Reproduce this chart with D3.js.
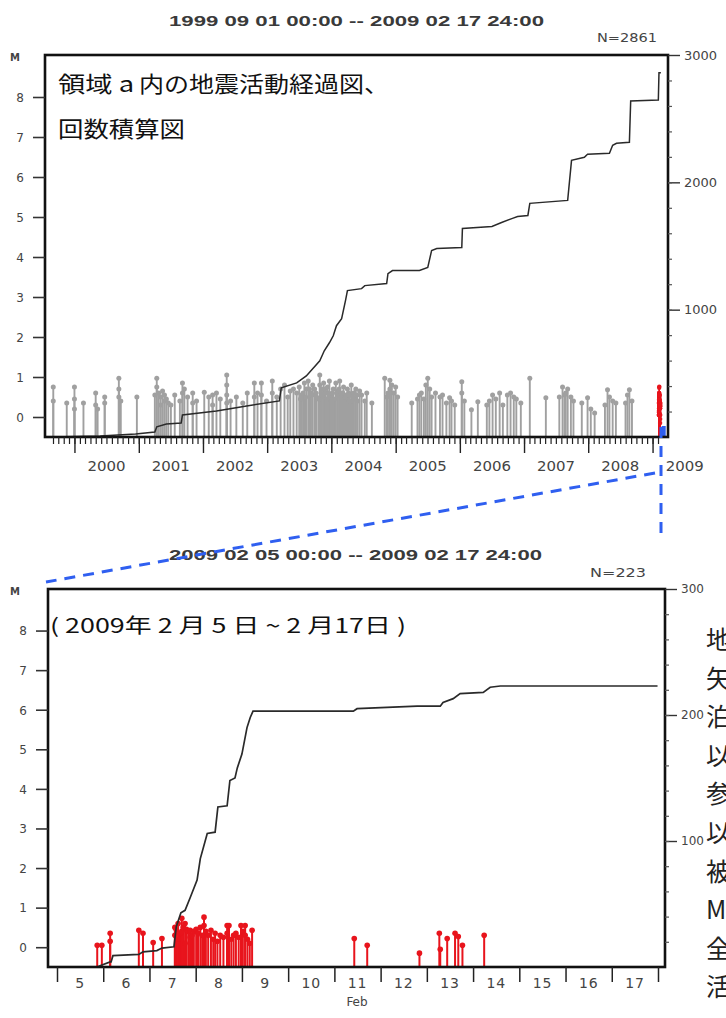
<!DOCTYPE html>
<html lang="ja">
<head>
<meta charset="UTF-8">
<script src="https://d3js.org/d3.v7.min.js"></script>
<style>
  body { margin: 0; background: #fff; }
  svg { display: block; }
  .num { font-family: "DejaVu Sans", sans-serif; fill: #444; }
  .ttl { font-family: "Liberation Sans", Arial, sans-serif; font-weight: bold; fill: #3a3a3a; }
  .jp { font-family: "Noto Sans CJK JP", sans-serif; fill: #111; }
  .side { font-family: "Noto Sans CJK JP", serif; fill: #222; }
</style>
</head>
<body>
<script>

    // ---- data ----
    var magTicks = [0, 1, 2, 3, 4, 5, 6, 7, 8]
    var yearLabels = [2000, 2001, 2002, 2003, 2004, 2005, 2006, 2007, 2008, 2009]
    var dayLabels = [5, 6, 7, 8, 9, 10, 11, 12, 13, 14, 15, 16, 17]
    var countTicksAll = [1000, 2000, 3000]
    var countTicksSwarm = [100, 200, 300]

    // cumulative count, whole period (decimal year, count)
    var cumAll = [[1999.67, 0], [2000.40, 8], [2000.95, 24], [2001.25, 39], [2001.28, 80], [2001.43, 102],
    [2001.66, 110], [2001.68, 173], [2002.21, 205], [2002.68, 244], [2003.19, 283], [2003.22, 386],
    [2003.46, 425], [2003.61, 480], [2003.82, 598], [2003.89, 677], [2003.97, 740], [2004.03, 795],
    [2004.08, 874], [2004.16, 929], [2004.22, 1071], [2004.25, 1150], [2004.47, 1165], [2004.52, 1189],
    [2004.86, 1205], [2004.88, 1283], [2004.95, 1307], [2005.37, 1307], [2005.50, 1331], [2005.56, 1465],
    [2005.64, 1480], [2006.03, 1488], [2006.04, 1638], [2006.50, 1654], [2006.65, 1685], [2006.82, 1717],
    [2006.90, 1732], [2007.06, 1740], [2007.09, 1835], [2007.68, 1858], [2007.74, 2173], [2007.94, 2197],
    [2007.99, 2220], [2008.33, 2228], [2008.38, 2291], [2008.44, 2307], [2008.64, 2315], [2008.66, 2638],
    [2009.09, 2646], [2009.10, 2861], [2009.13, 2861]]

    // earlier events (decimal year, M)
    var greyEvents = [[1999.67, 0.75], [1999.67, 0.4], [1999.88, 0.35], [2000.00, 0.75], [2000.00, 0.45], [2000.00, 0.2],
    [2000.14, 0.35], [2000.33, 0.6], [2000.33, 0.3], [2000.36, 0.2], [2000.47, 0.5], [2000.47, 0.35],
    [2000.69, 0.97], [2000.69, 0.7], [2000.69, 0.5], [2000.72, 0.4], [2000.97, 0.5],
    [2001.25, 0.55], [2001.28, 0.97], [2001.28, 0.75], [2001.31, 0.6], [2001.34, 0.5], [2001.34, 0.3],
    [2001.37, 0.65], [2001.40, 0.55], [2001.40, 0.4], [2001.43, 0.45], [2001.46, 0.35], [2001.50, 0.3],
    [2001.56, 0.55], [2001.64, 0.4], [2001.68, 0.85], [2001.68, 0.6], [2001.71, 0.7], [2001.76, 0.5],
    [2001.84, 0.6], [2001.84, 0.35], [2001.90, 0.4],
    [2002.02, 0.62], [2002.09, 0.5], [2002.15, 0.55], [2002.15, 0.3], [2002.21, 0.6], [2002.27, 0.45],
    [2002.37, 1.05], [2002.37, 0.8], [2002.37, 0.55], [2002.37, 0.35], [2002.43, 0.4], [2002.52, 0.5],
    [2002.62, 0.35], [2002.69, 0.6], [2002.80, 0.85], [2002.80, 0.5], [2002.85, 0.6], [2002.91, 0.85],
    [2002.91, 0.55], [2002.99, 0.4],
    [2003.08, 0.9], [2003.08, 0.6], [2003.15, 0.5], [2003.21, 0.7], [2003.27, 0.8], [2003.32, 0.5],
    [2003.36, 0.65], [2003.41, 0.7], [2003.46, 0.6], [2003.50, 0.75], [2003.52, 0.45], [2003.54, 0.55],
    [2003.56, 0.6], [2003.58, 0.85], [2003.60, 0.5], [2003.61, 0.7], [2003.64, 0.9], [2003.66, 0.7],
    [2003.68, 0.6], [2003.70, 0.55], [2003.71, 0.8], [2003.74, 0.7], [2003.76, 0.6], [2003.77, 0.5],
    [2003.80, 0.45], [2003.82, 1.05], [2003.82, 0.8], [2003.84, 0.6], [2003.85, 0.7], [2003.87, 0.5],
    [2003.88, 0.85], [2003.90, 0.7], [2003.91, 0.6], [2003.93, 0.45], [2003.94, 0.75], [2003.96, 0.6],
    [2003.97, 0.9], [2003.99, 0.5],
    [2004.00, 0.55], [2004.02, 0.6], [2004.03, 0.7], [2004.05, 0.45], [2004.07, 0.85], [2004.09, 0.55],
    [2004.10, 0.65], [2004.12, 0.7], [2004.13, 0.9], [2004.15, 0.5], [2004.16, 0.6], [2004.18, 0.6],
    [2004.19, 0.75], [2004.21, 0.45], [2004.22, 0.5], [2004.24, 0.55], [2004.25, 0.7], [2004.27, 0.6],
    [2004.28, 0.55], [2004.30, 0.4], [2004.31, 0.8], [2004.33, 0.5], [2004.35, 0.6], [2004.37, 0.45],
    [2004.38, 0.7], [2004.40, 0.55], [2004.41, 0.4], [2004.44, 0.65], [2004.47, 0.55], [2004.52, 0.4],
    [2004.55, 0.6], [2004.63, 0.35], [2004.83, 0.97], [2004.86, 0.5], [2004.88, 0.6], [2004.91, 0.92],
    [2004.91, 0.7], [2004.94, 0.8], [2004.97, 0.6],
    [2005.00, 0.75], [2005.03, 0.5], [2005.25, 0.35], [2005.34, 0.45], [2005.37, 0.55], [2005.40, 0.6],
    [2005.44, 0.45], [2005.47, 0.8], [2005.50, 0.97], [2005.53, 0.7], [2005.56, 0.5], [2005.62, 0.6],
    [2005.69, 0.5], [2005.73, 0.55], [2005.79, 0.35], [2005.84, 0.48], [2005.87, 0.4], [2005.92, 0.3],
    [2006.03, 0.88], [2006.03, 0.6], [2006.07, 0.4], [2006.18, 0.18], [2006.28, 0.38], [2006.42, 0.3],
    [2006.46, 0.4], [2006.51, 0.55], [2006.56, 0.45], [2006.62, 0.6], [2006.67, 0.3], [2006.74, 0.55],
    [2006.79, 0.6], [2006.84, 0.5], [2006.88, 0.45], [2006.95, 0.35],
    [2007.09, 0.97], [2007.34, 0.48], [2007.55, 0.5], [2007.60, 0.75], [2007.63, 0.55], [2007.65, 0.6],
    [2007.68, 0.7], [2007.73, 0.5], [2007.77, 0.4], [2007.90, 0.35], [2007.99, 0.48],
    [2008.04, 0.2], [2008.10, 0.1], [2008.26, 0.3], [2008.30, 0.68], [2008.33, 0.5], [2008.38, 0.4],
    [2008.43, 0.35], [2008.58, 0.35], [2008.61, 0.55], [2008.64, 0.68], [2008.68, 0.4]]

    // February 2009 swarm (day of Feb, M)
    var redEvents = [[5.87, 0.05], [5.97, 0.05], [6.15, 0.35], [6.15, 0.15], [6.77, 0.43], [6.86, 0.35],
    [7.08, 0.12], [7.27, 0.22], [7.55, 0.5], [7.55, 0.3], [7.58, 0.45], [7.62, 0.6], [7.62, 0.2],
    [7.66, 0.35], [7.70, 0.73], [7.70, 0.4], [7.73, 0.5], [7.77, 0.6], [7.77, 0.1], [7.80, 0.45],
    [7.84, 0.4], [7.88, 0.43], [7.88, 0.25], [7.92, 0.3], [7.96, 0.4], [8.01, 0.45], [8.05, 0.35],
    [8.10, 0.5], [8.14, 0.3], [8.18, 0.76], [8.18, 0.55], [8.22, 0.4], [8.27, 0.3], [8.33, 0.43],
    [8.38, 0.2], [8.42, 0.35], [8.47, 0.15], [8.53, 0.3], [8.60, 0.25], [8.68, 0.55], [8.68, 0.35],
    [8.72, 0.55], [8.77, 0.2], [8.82, 0.3], [8.87, 0.35], [8.93, 0.25], [8.98, 0.55], [9.02, 0.4],
    [9.07, 0.55], [9.07, 0.3], [9.12, 0.2], [9.17, 0.1], [9.22, 0.43], [11.43, 0.22], [11.71, 0.05],
    [12.84, -0.15], [13.27, 0.35], [13.29, -0.05], [13.44, 0.22], [13.61, 0.35], [13.68, 0.27],
    [13.77, 0.05], [14.24, 0.3]]

    // cumulative count, swarm (day of Feb, count)
    var cumSwarm = [[5.87, 0], [5.93, 1], [6.15, 4], [6.17, 4], [6.21, 9], [6.77, 10], [6.86, 12],
    [7.16, 13], [7.27, 15], [7.53, 16], [7.58, 32], [7.68, 43], [7.77, 45], [7.88, 55], [8.03, 69],
    [8.10, 86], [8.25, 106], [8.42, 107], [8.48, 127], [8.68, 128], [8.74, 148], [8.85, 150],
    [8.90, 158], [9.00, 169], [9.11, 190], [9.18, 198], [9.24, 203], [11.41, 203], [11.49, 205],
    [12.79, 207], [13.29, 207], [13.35, 210], [13.57, 213], [13.72, 217], [14.22, 218], [14.37, 222],
    [14.59, 223], [17.99, 223]]

    var sideChars = ["地", "矢", "泊", "以", "参", "以", "被", "M", "全", "活"]

    // ---- helpers ----
    function yearDate(y) {
        var yr = Math.floor(y)
        var a = Date.UTC(yr, 0, 1), b = Date.UTC(yr + 1, 0, 1)
        return new Date(a + (y - yr) * (b - a))
    }
    function febDate(d) { return new Date(Date.UTC(2009, 1, 1) + (d - 1) * 864e5) }

    var width = 726, height = 1018
    var svg = d3.select("body").append("svg")
        .attr("width", width)
        .attr("height", height)

    function stretchText(x, y, str, len, cls, size, anchor) {
        var t = svg.append("text")
            .attr("class", cls)
            .attr("x", x).attr("y", y)
            .attr("font-size", size)
            .attr("text-anchor", anchor || "start")
            .attr("xml:space", "preserve")
            .text(str)
        if (len) t.attr("textLength", len).attr("lengthAdjust", "spacingAndGlyphs")
        return t
    }

    // panels
    var p1 = { x0: 45, x1: 668, y0: 55, y1: 437 }
    var p2 = { x0: 48, x1: 665, y0: 589, y1: 967 }

    var xAll = d3.scaleUtc().domain([Date.UTC(1999, 8, 1), Date.UTC(2009, 1, 18)]).range([53, 661])
    var xSw = d3.scaleUtc().domain([Date.UTC(2009, 1, 5), Date.UTC(2009, 1, 18)]).range([57, 658])
    var mAll = d3.scaleLinear().domain([-0.5, 9.05]).range([p1.y1, p1.y0])
    var mSw = d3.scaleLinear().domain([-0.5, 9.05]).range([p2.y1, p2.y0])
    var cAll = d3.scaleLinear().domain([0, 3000]).range([p1.y1, p1.y0])
    var cSw = d3.scaleLinear().domain([0, 300]).range([p2.y1, p2.y0])

    // stems with dot on top
    function stems(data, xf, m, bottom, color, w, r) {
        var g = svg.append("g")
        g.selectAll("line").data(data).join("line")
            .attr("x1", function (d) { return xf(d[0]) })
            .attr("x2", function (d) { return xf(d[0]) })
            .attr("y1", bottom)
            .attr("y2", function (d) { return m(d[1]) })
            .attr("stroke", color).attr("stroke-width", w)
        g.selectAll("circle").data(data).join("circle")
            .attr("cx", function (d) { return xf(d[0]) })
            .attr("cy", function (d) { return m(d[1]) })
            .attr("r", r)
            .attr("fill", color)
    }

    stems(greyEvents, function (v) { return xAll(yearDate(v)) }, mAll, p1.y1, "#a0a0a0", 1.9, 2.5)
    stems(redEvents, function (v) { return xAll(febDate(v)) }, mAll, p1.y1, "#e8141c", 1.4, 2.2)
    stems(redEvents, function (v) { return xSw(febDate(v)) }, mSw, p2.y1, "#e8141c", 2, 2.8)

    // cumulative lines
    svg.append("path")
        .datum(cumAll)
        .attr("fill", "none").attr("stroke", "#2a2a2a").attr("stroke-width", 1.5)
        .attr("d", d3.line()
            .x(function (d) { return xAll(yearDate(d[0])) })
            .y(function (d) { return cAll(d[1]) }))
    svg.append("path")
        .datum(cumSwarm)
        .attr("fill", "none").attr("stroke", "#2a2a2a").attr("stroke-width", 1.7)
        .attr("d", d3.line()
            .x(function (d) { return xSw(febDate(d[0])) })
            .y(function (d) { return cSw(d[1]) }))

    // blue marker of the zoomed period
    svg.append("rect")
        .attr("x", xAll(Date.UTC(2009, 1, 5)) + 3)
        .attr("y", p1.y1 - 11)
        .attr("width", 4).attr("height", 11)
        .attr("fill", "#2f5ff0")

    // frames
    ;[p1, p2].forEach(function (p) {
        svg.append("rect")
            .attr("x", p.x0).attr("y", p.y0)
            .attr("width", p.x1 - p.x0).attr("height", p.y1 - p.y0)
            .attr("fill", "none").attr("stroke", "#111").attr("stroke-width", 2.6)
    })

    function styleAxis(g, col, w) {
        g.select(".domain").remove()
        g.selectAll(".tick line").attr("stroke", col).attr("stroke-width", w)
        g.selectAll(".tick text").attr("class", "num").attr("fill", "#444")
            .attr("font-family", "DejaVu Sans").attr("font-size", 12)
    }

    // left magnitude axes
    ;[[p1, mAll], [p2, mSw]].forEach(function (a) {
        var g = svg.append("g").attr("transform", "translate(" + a[0].x0 + ",0)")
            .call(d3.axisLeft(a[1]).tickValues(magTicks).tickSize(12).tickPadding(13).tickFormat(d3.format("d")))
        styleAxis(g, "#333", 1.6)
        g.selectAll(".tick text").attr("text-anchor", "middle").attr("dy", "0.36em")
        svg.append("text").attr("class", "num").attr("x", 15).attr("y", a[0].y0 + 6)
            .attr("text-anchor", "middle").attr("font-size", 10).attr("font-weight", "bold").text("M")
    })

    // right count axes
    ;[[p1, cAll, countTicksAll, 200, 13], [p2, cSw, countTicksSwarm, 20, 12]].forEach(function (a) {
        var g = svg.append("g").attr("transform", "translate(" + a[0].x1 + ",0)")
            .call(d3.axisRight(a[1]).tickValues(a[2]).tickSize(12).tickPadding(4).tickFormat(d3.format("d")))
        styleAxis(g, "#333", 1.4)
        g.selectAll(".tick text").attr("font-size", a[4]).attr("fill", "#555")
        var minor = d3.range(a[3], a[1].domain()[1], a[3])
        var gm = svg.append("g").attr("transform", "translate(" + a[0].x1 + ",0)")
            .call(d3.axisRight(a[1]).tickValues(minor).tickSize(4).tickFormat(""))
        styleAxis(gm, "#555", 1.2)
    })

    // time axis, whole period
    var gMon = svg.append("g").attr("transform", "translate(0," + p1.y1 + ")")
        .call(d3.axisBottom(xAll).ticks(d3.utcMonth.every(1)).tickSize(7).tickFormat(""))
    styleAxis(gMon, "#222", 1.2)
    var gYr = svg.append("g").attr("transform", "translate(0," + p1.y1 + ")")
        .call(d3.axisBottom(xAll).ticks(d3.utcYear.every(1)).tickSize(16).tickFormat(""))
    styleAxis(gYr, "#222", 1.4)
    svg.append("g").selectAll("text").data(yearLabels).join("text")
        .attr("class", "num")
        .attr("x", function (d) { return xAll(yearDate(d + 0.5)) })
        .attr("y", 471)
        .attr("text-anchor", "middle")
        .attr("font-size", 14)
        .attr("textLength", 38).attr("lengthAdjust", "spacingAndGlyphs")
        .attr("fill", "#333")
        .text(function (d) { return d })

    // time axis, swarm
    var gDay = svg.append("g").attr("transform", "translate(0," + p2.y1 + ")")
        .call(d3.axisBottom(xSw).ticks(d3.utcDay.every(1)).tickSize(15).tickFormat(""))
    styleAxis(gDay, "#222", 1.5)
    svg.append("g").selectAll("text").data(dayLabels).join("text")
        .attr("class", "num")
        .attr("x", function (d) { return xSw(febDate(d + 0.5)) })
        .attr("y", 988)
        .attr("text-anchor", "middle")
        .attr("font-size", 14)
        .attr("letter-spacing", 0.8)
        .attr("fill", "#333")
        .text(function (d) { return d })
    stretchText(357, 1006, "Feb", 0, "num", 12, "middle").attr("fill", "#333")

    // titles
    stretchText(169, 26, "1999 09 01 00:00 -- 2009 02 17 24:00", 375, "ttl", 14)
    stretchText(657, 42, "N=2861", 60, "num", 12, "end").attr("fill", "#444")
    stretchText(169, 560, "2009 02 05 00:00 -- 2009 02 17 24:00", 373, "ttl", 14)
    stretchText(646, 577, "N=223", 56, "num", 12, "end").attr("fill", "#444")

    // Japanese annotations
    stretchText(58, 92, "領域 a", 76, "jp", 22).attr("fill", "#3d6ff0")
    stretchText(139, 92, "内の地震活動経過図、", 250, "jp", 22)
    stretchText(58, 137, "回数積算図", 127, "jp", 22)
    stretchText(50, 633, "( 2009年 2 月 5 日 ~ 2 月17日 )", 356, "jp", 20)

    // text column that runs off the right edge
    svg.append("g").selectAll("text").data(sideChars).join("text")
        .attr("class", "side")
        .attr("x", 706)
        .attr("y", function (d, i) { return 649 + i * 38.6 })
        .attr("font-size", 25)
        .text(function (d) { return d })

    // blue dashed zoom guides
    var gx = xAll(Date.UTC(2009, 1, 18))
    svg.append("line")
        .attr("x1", gx).attr("y1", p1.y1 - 10).attr("x2", gx).attr("y2", 533)
        .attr("stroke", "#2f5ff0").attr("stroke-width", 3).attr("stroke-dasharray", "11 8")
    svg.append("line")
        .attr("x1", gx - 6).attr("y1", 473).attr("x2", p2.x0 - 2).attr("y2", p2.y0 - 7)
        .attr("stroke", "#2f5ff0").attr("stroke-width", 3).attr("stroke-dasharray", "11 8")

</script>
</body>
</html>
